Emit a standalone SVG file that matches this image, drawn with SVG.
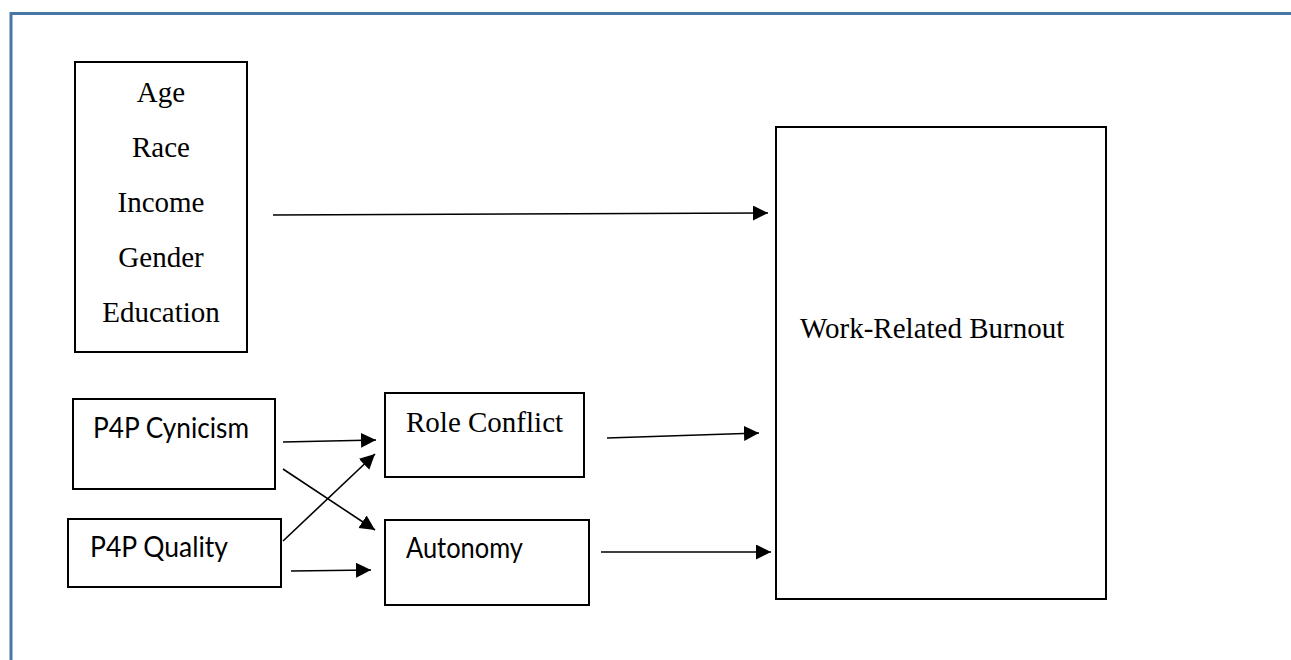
<svg xmlns="http://www.w3.org/2000/svg" width="1291" height="660" viewBox="0 0 1291 660">
  <style>
    .box { fill: #ffffff; stroke: #000000; stroke-width: 2; }
    .serif { font-family: "Liberation Serif", "Times New Roman", serif; font-size: 29px; fill: #000000; }
    .sans { font-family: Lato, "Liberation Sans", sans-serif; font-size: 28px; fill: #000000; }
    .link { fill: none; stroke: #000000; stroke-width: 1.6; marker-end: url(#head); }
  </style>
  <defs>
    <marker id="head" markerUnits="userSpaceOnUse" markerWidth="16" markerHeight="16" refX="15" refY="7.5" orient="auto">
      <path d="M0,0 L15,7.5 L0,15 Z" fill="#000000"/>
    </marker>
  </defs>

  <rect x="0" y="0" width="1291" height="660" fill="#ffffff"/>

  <!-- page frame -->
  <path d="M11,660 V13.5 H1291" fill="none" stroke="#4a76a6" stroke-width="3"/>

  <g id="demographics">
    <rect class="box" x="75" y="62" width="172" height="290"/>
    <text class="serif" x="161" y="102" text-anchor="middle">Age</text>
    <text class="serif" x="161" y="157" text-anchor="middle">Race</text>
    <text class="serif" x="161" y="212" text-anchor="middle">Income</text>
    <text class="serif" x="161" y="267" text-anchor="middle">Gender</text>
    <text class="serif" x="161" y="322" text-anchor="middle">Education</text>
  </g>

  <g id="p4p-cynicism">
    <rect class="box" x="73" y="399" width="202" height="90"/>
    <text class="sans" x="93" y="438" textLength="156" lengthAdjust="spacingAndGlyphs">P4P Cynicism</text>
  </g>

  <g id="p4p-quality">
    <rect class="box" x="68" y="519" width="213" height="68"/>
    <text class="sans" x="90" y="557" textLength="138" lengthAdjust="spacingAndGlyphs">P4P Quality</text>
  </g>

  <g id="role-conflict">
    <rect class="box" x="385" y="393" width="199" height="84"/>
    <text class="serif" x="406" y="432">Role Conflict</text>
  </g>

  <g id="autonomy">
    <rect class="box" x="385" y="520" width="204" height="85"/>
    <text class="sans" x="406" y="558" textLength="117" lengthAdjust="spacingAndGlyphs">Autonomy</text>
  </g>

  <g id="burnout">
    <rect class="box" x="776" y="127" width="330" height="472"/>
    <text class="serif" x="800" y="338">Work-Related Burnout</text>
  </g>

  <g id="connectors">
    <line class="link" x1="273" y1="215" x2="768" y2="213"/>
    <line class="link" x1="283" y1="442" x2="376" y2="440"/>
    <line class="link" x1="283" y1="469" x2="375" y2="530"/>
    <line class="link" x1="283" y1="541" x2="375" y2="454"/>
    <line class="link" x1="291" y1="571" x2="371" y2="570"/>
    <line class="link" x1="607" y1="438" x2="759" y2="433"/>
    <line class="link" x1="601" y1="552" x2="771" y2="552"/>
  </g>
</svg>
